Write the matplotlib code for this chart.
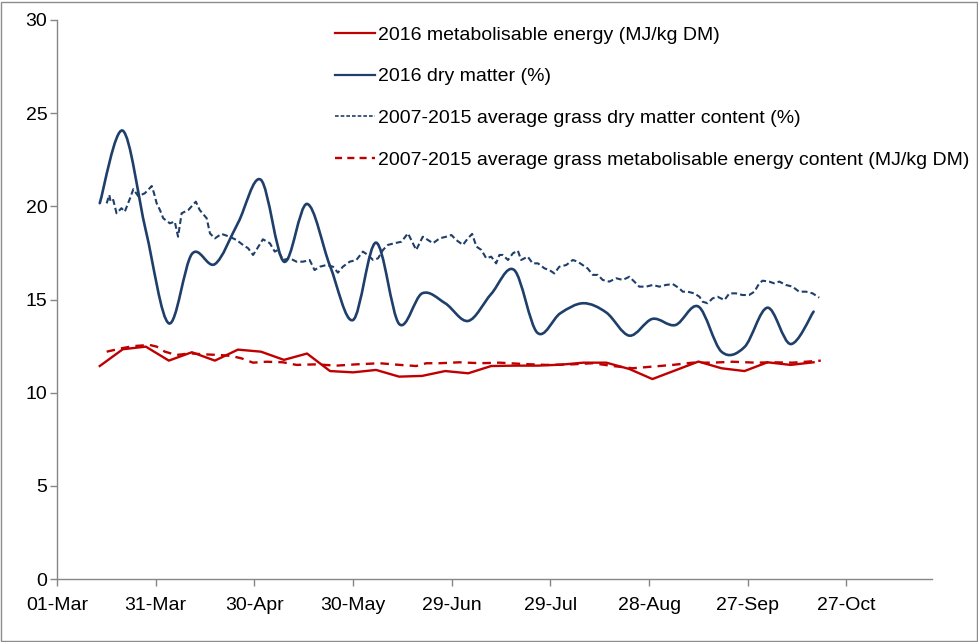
import numpy as np
import matplotlib
matplotlib.use("Agg")
import matplotlib.pyplot as plt
from matplotlib.path import Path
from matplotlib.patches import PathPatch, Rectangle
from matplotlib.lines import Line2D

# days are counted from 01-Mar-2016
week_days = [13, 20, 27, 34, 41, 48, 55, 62, 69, 76, 83, 90, 97, 104, 111, 118,
             125, 132, 139, 146, 153, 160, 167, 174, 181, 188, 195, 202, 209, 216, 223, 230]

me_2016 = [11.43, 12.33, 12.47, 11.72, 12.17, 11.72, 12.31, 12.20, 11.76, 12.10, 11.16,
           11.09, 11.22, 10.86, 10.90, 11.16, 11.04, 11.43, 11.45, 11.45, 11.50, 11.61,
           11.61, 11.27, 10.73, 11.20, 11.67, 11.31, 11.16, 11.63, 11.49, 11.63]

dm_2016 = [20.17, 24.06, 18.70, 13.72, 17.44, 16.90, 19.10, 21.42, 17.03, 20.13, 16.80,
           13.90, 18.05, 13.69, 15.33, 14.80, 13.85, 15.30, 16.58, 13.22, 14.26, 14.80,
           14.30, 13.06, 13.96, 13.63, 14.62, 12.20, 12.45, 14.56, 12.61, 14.35]

avg_dm_day = [15.1, 15.9, 16.3, 17.1, 18.1, 19.6, 20.6, 22.2, 23.2, 24.7, 26.7, 28.8, 29.5,
              30.3, 31.3, 32.3, 34.3, 35.8, 36.8, 37.9, 39.9, 42.2, 43.4, 45.5, 46.5, 48.0,
              50.0, 52.5, 54.6, 56.6, 58.1, 59.6, 60.6, 62.6, 64.7, 66.2, 67.2, 68.7, 70.8,
              72.8, 74.8, 76.8, 78.3, 79.9, 81.9, 83.9, 85.4, 86.9, 89.0, 91.0, 93.0, 94.5,
              96.1, 97.6, 99.1, 100.6, 102.6, 104.7, 106.7, 107.7, 109.2, 111.2, 112.8, 114.3,
              116.3, 118.3, 119.9, 121.4, 123.4, 124.9, 126.2, 127.5, 129.0, 130.5, 132.0,
              133.5, 134.5, 135.5, 137.1, 138.6, 140.1, 141.1, 143.1, 144.6, 146.2, 148.2,
              149.7, 151.2, 152.7, 154.8, 156.8, 158.3, 159.8, 161.3, 162.9, 164.4, 165.9,
              167.9, 170.0, 172.0, 174.0, 175.5, 177.0, 179.1, 181.1, 183.1, 185.1, 187.2,
              189.2, 190.2, 191.7, 193.7, 195.3, 196.3, 197.8, 199.3, 200.8, 202.9, 204.4,
              206.4, 208.4, 210.4, 212.0, 213.5, 214.5, 216.5, 218.0, 219.6, 221.6, 223.6,
              225.6, 227.7, 229.7, 231.7]
avg_dm_val = [20.16, 20.61, 20.25, 20.34, 19.63, 19.90, 19.71, 20.43, 20.92, 20.55, 20.70,
              21.09, 20.70, 20.16, 19.80, 19.36, 19.09, 19.18, 18.37, 19.63, 19.80, 20.25,
              19.80, 19.36, 18.55, 18.28, 18.52, 18.37, 18.19, 17.92, 17.75, 17.39, 17.66,
              18.23, 18.02, 17.57, 17.66, 17.12, 17.21, 17.03, 17.03, 17.12, 16.58, 16.76,
              16.85, 16.76, 16.44, 16.76, 17.03, 17.12, 17.57, 17.39, 17.12, 17.21, 17.66,
              17.93, 18.02, 18.10, 18.55, 18.19, 17.66, 18.37, 18.19, 18.02, 18.28, 18.37,
              18.46, 18.19, 17.93, 18.28, 18.52, 17.84, 17.66, 17.21, 17.30, 16.94, 17.39,
              17.39, 17.12, 17.48, 17.62, 17.12, 17.30, 16.94, 16.94, 16.67, 16.58, 16.40,
              16.76, 16.85, 17.12, 17.03, 16.85, 16.67, 16.32, 16.32, 16.05, 15.96, 16.14,
              16.05, 16.22, 15.96, 15.69, 15.69, 15.78, 15.69, 15.78, 15.83, 15.60, 15.42,
              15.42, 15.33, 15.15, 14.88, 14.80, 15.06, 15.15, 14.97, 15.33, 15.33, 15.24,
              15.24, 15.42, 15.87, 16.01, 15.96, 15.87, 15.96, 15.78, 15.69, 15.42, 15.42,
              15.33, 15.10]

avg_me_day = [15.1, 19.6, 23.2, 28.2, 30.3, 32.8, 36.3, 40.4, 44.4, 49.5, 53.0, 56.1, 59.6,
              63.7, 68.7, 72.8, 78.9, 84.9, 91.0, 98.1, 104.2, 109.2, 112.3, 116.3, 122.4,
              128.5, 134.5, 141.6, 148.7, 156.8, 162.9, 169.0, 175.0, 181.1, 187.2, 193.2,
              199.3, 205.4, 212.5, 217.5, 223.6, 227.7, 232.2]
avg_me_val = [12.20, 12.38, 12.50, 12.56, 12.47, 12.20, 12.02, 12.11, 12.06, 12.02, 11.97,
              11.84, 11.61, 11.66, 11.63, 11.49, 11.52, 11.45, 11.52, 11.58, 11.49, 11.43,
              11.58, 11.58, 11.63, 11.58, 11.61, 11.54, 11.49, 11.52, 11.58, 11.43, 11.31,
              11.40, 11.49, 11.61, 11.61, 11.66, 11.61, 11.63, 11.61, 11.66, 11.72]

tick_days = [0, 30, 60, 90, 120, 150, 180, 210, 240]
tick_labels = ["01-Mar", "31-Mar", "30-Apr", "30-May", "29-Jun", "29-Jul", "28-Aug", "27-Sep", "27-Oct"]

labels = ["2016 metabolisable energy (MJ/kg DM)",
          "2016 dry matter (%)",
          "2007-2015 average grass dry matter content (%)",
          "2007-2015 average grass metabolisable energy content (MJ/kg DM)"]

RED = "#C00000"
BLUE = "#1F3F6B"


def smooth_path(xs, ys):
    # Excel style smoothed line: cubic bezier segments through every point
    pts = np.column_stack([xs, ys]).astype(float)
    n = len(pts)
    verts = [pts[0]]
    codes = [Path.MOVETO]
    for i in range(n - 1):
        p0 = pts[max(i - 1, 0)]
        p1 = pts[i]
        p2 = pts[i + 1]
        p3 = pts[min(i + 2, n - 1)]
        verts += [p1 + (p2 - p0) / 6.0, p2 - (p3 - p1) / 6.0, p2]
        codes += [Path.CURVE4] * 3
    return Path(verts, codes)


plt.rcParams['font.family'] = ['Liberation Sans', 'DejaVu Sans']
plt.rcParams['font.size'] = 14

fig = plt.figure(figsize=(9.79, 6.42), dpi=100)
ax = fig.add_axes([57 / 979, 1 - 579 / 642, 875 / 979, 559 / 642])

ax.plot(week_days, me_2016, color=RED, lw=1.7, solid_joinstyle='round')
ax.add_patch(PathPatch(smooth_path(week_days, dm_2016), fill=False,
                       edgecolor=BLUE, lw=1.9, capstyle='round'))
ax.plot(avg_dm_day, avg_dm_val, color=BLUE, lw=1.5, linestyle=(0, (2.8, 1.5)))
ax.plot(avg_me_day, avg_me_val, color=RED, lw=1.7, linestyle=(0, (3.6, 2.6)))

handles = [Line2D([], [], color=RED, lw=1.6),
           Line2D([], [], color=BLUE, lw=1.6),
           Line2D([], [], color=BLUE, lw=1.2, linestyle=(0, (2.2, 1.2))),
           Line2D([], [], color=RED, lw=1.7, linestyle=(0, (3.0, 2.2)))]
ax.legend(handles, labels, loc='upper left', bbox_to_anchor=(0.309, 1.003), frameon=False,
          borderaxespad=0, handlelength=2.05, handletextpad=0.15, labelspacing=1.24,
          fontsize=14)

ax.set_xlim(0, 266)
ax.set_ylim(0, 30)
ax.set_xticks(tick_days)
ax.set_xticklabels(tick_labels)
ax.set_yticks(range(0, 31, 5))

for s in ['top', 'right']:
    ax.spines[s].set_visible(False)
for s in ['left', 'bottom']:
    ax.spines[s].set_color('#868686')
    ax.spines[s].set_linewidth(1.0)
ax.tick_params(axis='both', direction='out', length=5, color='#868686', width=1.0)
ax.tick_params(axis='y', pad=2)
ax.tick_params(axis='x', pad=8)

fig.patches.append(Rectangle((0.001, 0.0015), 0.997, 0.996, transform=fig.transFigure,
                             fill=False, edgecolor='#8c8c8c', lw=1.0))

fig.savefig("out.png", dpi=100)
